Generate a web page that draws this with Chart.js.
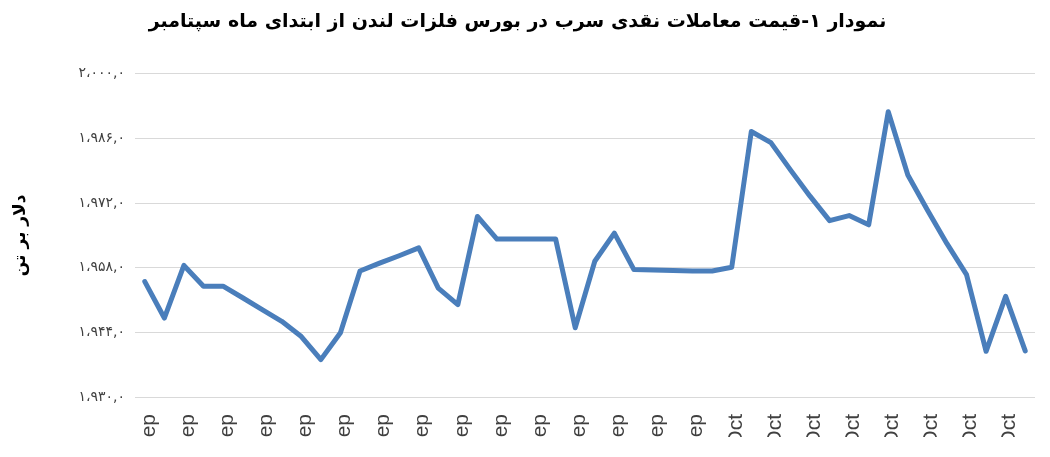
<!DOCTYPE html>
<html>
<head>
<meta charset="utf-8">
<script src="https://cdn.jsdelivr.net/npm/chart.js@4.4.1/dist/chart.umd.min.js"></script>
<style>
	html, body { margin: 0; padding: 0; background: #fff; overflow: hidden; }
	#wrap { width: 1050px; height: 437px; overflow: hidden; }
</style>
</head>
<body>
<div id="wrap"><canvas id="chart" width="1050" height="457"></canvas></div>
<script>
const chartTitle = "نمودار ۱-قیمت معاملات نقدی سرب در بورس فلزات لندن از ابتدای ماه سپتامبر";
const yTitle = "دلار بر تن";

const dayLabels = [
	"1-Sep", "2-Sep", "3-Sep", "4-Sep", "5-Sep", "6-Sep", "7-Sep", "8-Sep", "9-Sep", "10-Sep",
	"11-Sep", "12-Sep", "13-Sep", "14-Sep", "15-Sep", "16-Sep", "17-Sep", "18-Sep", "19-Sep", "20-Sep",
	"21-Sep", "22-Sep", "23-Sep", "24-Sep", "25-Sep", "26-Sep", "27-Sep", "28-Sep", "29-Sep", "30-Sep",
	"1-Oct", "2-Oct", "3-Oct", "4-Oct", "5-Oct", "6-Oct", "7-Oct", "8-Oct", "9-Oct", "10-Oct",
	"11-Oct", "12-Oct", "13-Oct", "14-Oct", "15-Oct", "16-Oct"
];

// dollars per tonne
const leadPrice = [
	1955.0, 1947.1, 1958.5, 1954.0, 1954.0, 1951.5, 1948.9, 1946.4, 1943.1, 1938.1,
	1943.9, 1957.3, 1959.0, 1960.6, 1962.3, 1953.6, 1950.0, 1969.1, 1964.2, 1964.2,
	1964.2, 1964.2, 1945.0, 1959.4, 1965.5, 1957.6, 1957.5, 1957.4, 1957.3, 1957.3,
	1958.1, 1987.5, 1985.1, 1979.2, 1973.5, 1968.2, 1969.3, 1967.3, 1991.8, 1978.1,
	1970.5, 1963.2, 1956.5, 1939.9, 1951.8, 1940.0
];

const yTicks = [1930, 1944, 1958, 1972, 1986, 2000];
const yTickLabels = ["۱،۹۳۰,۰", "۱،۹۴۴,۰", "۱،۹۵۸,۰", "۱،۹۷۲,۰", "۱،۹۸۶,۰", "۲،۰۰۰,۰"];

const $chart = document.getElementById("chart");

new Chart($chart, {
	type: "line",
	data: {
		labels: dayLabels,
		datasets: [{
			label: yTitle,
			data: leadPrice,
			borderColor: "#4a7ebb",
			borderWidth: 5,
			borderJoinStyle: "round",
			borderCapStyle: "round",
			pointRadius: 0,
			tension: 0,
			fill: false
		}]
	},
	options: {
		responsive: false,
		animation: false,
		layout: { padding: { left: 0, right: 15, top: 0, bottom: 0 } },
		plugins: {
			legend: { display: false },
			tooltip: { enabled: false },
			title: {
				display: true,
				text: chartTitle,
				color: "#000",
				font: { family: "DejaVu Sans", size: 19, weight: "bold" },
				padding: { top: 11, bottom: 40 }
			}
		},
		scales: {
			x: {
				offset: true,
				grid: { display: false, drawTicks: false },
				border: { display: false },
				afterFit: (scale) => {
					scale.height = 60;
					scale.paddingLeft = 0;
					scale.paddingRight = 0;
				},
				ticks: {
					autoSkip: false,
					minRotation: 90,
					maxRotation: 90,
					padding: 17,
					labelOffset: 4,
					color: "#404040",
					font: { family: "Liberation Sans", size: 21 },
					callback: function (value, index) {
						return index % 2 === 0 ? this.getLabelForValue(value) : "";
					}
				}
			},
			y: {
				min: 1930,
				max: 2000,
				afterFit: (scale) => { scale.width = 135; },
				afterBuildTicks: (scale) => { scale.ticks = yTicks.map((v) => ({ value: v })); },
				grid: { color: "#d9d9d9", lineWidth: 1, drawTicks: false },
				border: { display: false },
				ticks: {
					padding: 10,
					color: "#404040",
					font: { family: "DejaVu Sans", size: 14 },
					callback: (value) => yTickLabels[yTicks.indexOf(value)]
				},
				title: {
					display: true,
					text: yTitle,
					color: "#000",
					font: { family: "DejaVu Sans", size: 17, weight: "bold" },
					padding: { top: 10, bottom: 0 }
				}
			}
		}
	}
});
</script>
</body>
</html>
